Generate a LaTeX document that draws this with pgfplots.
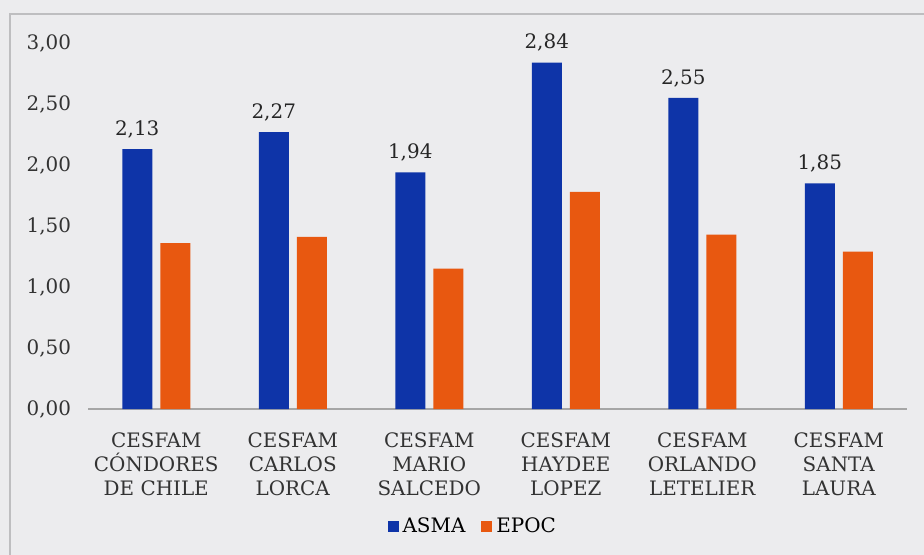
\documentclass[border=0pt]{standalone}
\usepackage{fontspec}
\setmainfont{DejaVu Serif}
\usepackage{pgfplots}
\pgfplotsset{compat=1.18}
\definecolor{asmablue}{RGB}{14,52,168}
\definecolor{epocorange}{RGB}{232,88,16}
\definecolor{paper}{RGB}{236,236,238}
\definecolor{framegray}{RGB}{190,190,192}
\begin{document}
\fontsize{10}{12}\selectfont
\begin{tikzpicture}
\fill[paper] (-44bp,-73bp) rectangle (418bp,204.5bp);
\draw[framegray, line width=0.6bp] (-39bp,-73bp) -- (-39bp,197.5bp) -- (418bp,197.5bp);
\begin{axis}[
    scale only axis,
    width=409.5bp, height=183bp,
    ybar=4bp, bar width=15bp,
    xmin=-0.5, xmax=5.5,
    ymin=0, ymax=3,
    xtick=data,
    xticklabels={{CESFAM\\CÓNDORES\\DE CHILE},{CESFAM\\CARLOS\\LORCA},{CESFAM\\MARIO\\SALCEDO},{CESFAM\\HAYDEE\\LOPEZ},{CESFAM\\ORLANDO\\LETELIER},{CESFAM\\SANTA\\LAURA}},
    xticklabel style={align=center, yshift=-4bp, text=black!80},
    ytick={0,0.5,1,1.5,2,2.5,3},
    yticklabel style={xshift=-5bp, text=black!80},
    /pgf/number format/.cd, use comma, fixed, fixed zerofill, precision=2, assume math mode=true,
    /pgfplots/.cd,
    separate axis lines,
    axis x line*=bottom,
    axis y line*=left,
    x axis line style={black!35, line width=0.6bp, -},
    y axis line style={draw=none},
    tick style={draw=none},
    legend style={at={(0.471,-0.322)}, anchor=center, draw=none, fill=none,
        legend columns=2, /tikz/every even column/.append style={column sep=6bp},
        font=\fontsize{10}{12}\selectfont},
    legend image code/.code={\fill[#1] (0bp,-2.8bp) rectangle (5.5bp,2.7bp);},
]
\addplot[fill=asmablue, draw=none,
    nodes near coords, every node near coord/.append style={yshift=2bp, text=black!85}]
    coordinates {(0,2.13) (1,2.27) (2,1.94) (3,2.84) (4,2.55) (5,1.85)};
\addlegendentry{ASMA}
\addplot[fill=epocorange, draw=none]
    coordinates {(0,1.36) (1,1.41) (2,1.15) (3,1.78) (4,1.43) (5,1.29)};
\addlegendentry{EPOC}
\end{axis}
\pgfresetboundingbox
\useasboundingbox (-44bp,-73bp) rectangle (418bp,204.5bp);
\end{tikzpicture}
\end{document}
